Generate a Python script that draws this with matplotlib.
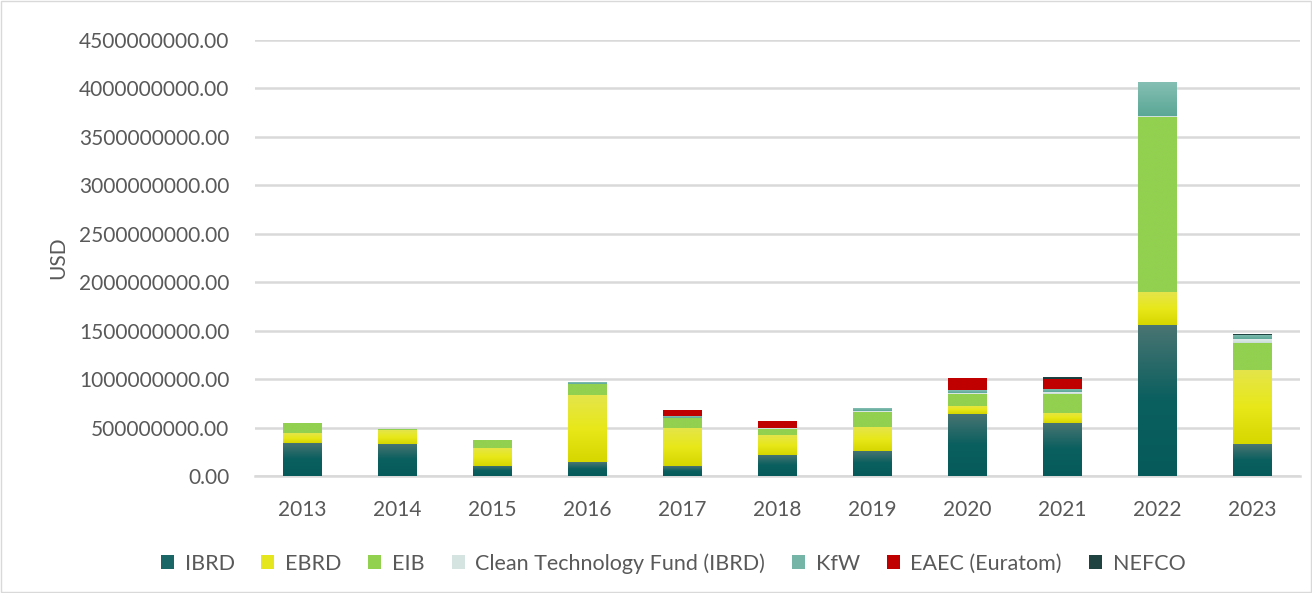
import numpy as np
import matplotlib
matplotlib.use("Agg")
import matplotlib.pyplot as plt
from matplotlib.colors import LinearSegmentedColormap
from matplotlib.patches import Patch, Rectangle

plt.rcParams['font.family'] = ['Lato', 'DejaVu Sans']

years = ['2013', '2014', '2015', '2016', '2017', '2018', '2019', '2020', '2021', '2022', '2023']

# values in USD
ibrd = [344e6, 333e6, 106e6, 144e6, 103e6, 217e6, 261e6, 640e6, 547e6, 1558e6, 330e6]
ebrd = [97e6, 140e6, 186e6, 690e6, 396e6, 206e6, 245e6, 86e6, 106e6, 338e6, 767e6]
eib = [107e6, 13e6, 83e6, 112e6, 103e6, 62e6, 154e6, 127e6, 196e6, 1806e6, 279e6]
ctf = [0, 0, 0, 6e6, 0, 14e6, 10e6, 10e6, 15e6, 13e6, 35e6]
kfw = [0, 0, 0, 16e6, 17e6, 0, 30e6, 24e6, 34e6, 351e6, 44e6]
eaec = [0, 0, 0, 0, 62e6, 69e6, 0, 123e6, 103e6, 0, 0]
nefco = [0, 0, 0, 0, 0, 0, 0, 0, 21e6, 0, 10e6]

series = [
    ('IBRD', ibrd, ['#065a5a', '#0a5f5f', '#4a7573']),
    ('EBRD', ebrd, ['#d6d600', '#e8e81a', '#e4e44c']),
    ('EIB', eib, ['#92d050', '#92d050']),
    ('Clean Technology Fund (IBRD)', ctf, ['#c9dcd8', '#e2ecea']),
    ('KfW', kfw, ['#5aa796', '#86c0b4']),
    ('EAEC (Euratom)', eaec, ['#c00000', '#c00000']),
    ('NEFCO', nefco, ['#14393a', '#2a4a48']),
]
legend_colors = ['#1a6565', '#e6e61e', '#92d050', '#d6e4e1', '#74b5a8', '#c00000', '#1f4341']

fig = plt.figure(figsize=(13.12, 5.93), dpi=100)
ax = fig.add_axes([0.194, 0.197, 0.797, 0.7355])
fig.patches.append(Rectangle((0.0005, 0.001), 0.999, 0.998, transform=fig.transFigure,
                             fill=False, edgecolor='#d9d9d9', linewidth=1))

x = np.arange(len(years))
grad = np.linspace(0, 1, 256).reshape(-1, 1)
bottom = np.zeros(len(years))
for name, vals, cols in series:
    vals = np.array(vals)
    bars = ax.bar(x, vals, 0.41, bottom=bottom, color='none', linewidth=0, zorder=3)
    cmap = LinearSegmentedColormap.from_list(name, cols)
    for b, v in zip(bars, vals):
        if v <= 0:
            continue
        x0, y0 = b.get_x(), b.get_y()
        im = ax.imshow(grad, cmap=cmap, aspect='auto', origin='lower',
                       extent=[x0, x0 + b.get_width(), y0, y0 + b.get_height()],
                       zorder=3, interpolation='bilinear')
        im.set_clip_path(b)
    bottom += vals

ax.set_xlim(-0.5, len(years) - 0.5)
ax.set_ylim(0, 4.5e9)
ax.set_yticks(np.arange(0, 4.5e9 + 1, 5e8))
ax.set_yticklabels(['%.2f' % v for v in np.arange(0, 4.5e9 + 1, 5e8)])
ax.set_xticks(x)
ax.set_xticklabels(years)
ax.grid(axis='y', color='#d9d9d9', linewidth=1.8, zorder=0)
ax.set_axisbelow(True)
for s in ['top', 'right', 'left']:
    ax.spines[s].set_visible(False)
ax.spines['bottom'].set_color('#d9d9d9')
ax.spines['bottom'].set_linewidth(1.8)
ax.tick_params(length=0, labelsize=15, labelcolor='#595959')
ax.tick_params(axis='x', pad=17)
ax.tick_params(axis='y', pad=18)
ax.set_ylabel('USD', fontsize=15, color='#595959', labelpad=8)

handles = [Patch(facecolor=c, edgecolor='none') for c in legend_colors]
fig.legend(handles, [s[0] for s in series], loc='center', bbox_to_anchor=(0.513, 0.05),
           ncol=7, frameon=False, fontsize=15.5, labelcolor='#595959',
           handlelength=0.6, handleheight=0.6, handletextpad=0.5, columnspacing=1.25)

fig.savefig('out.png', dpi=100)
